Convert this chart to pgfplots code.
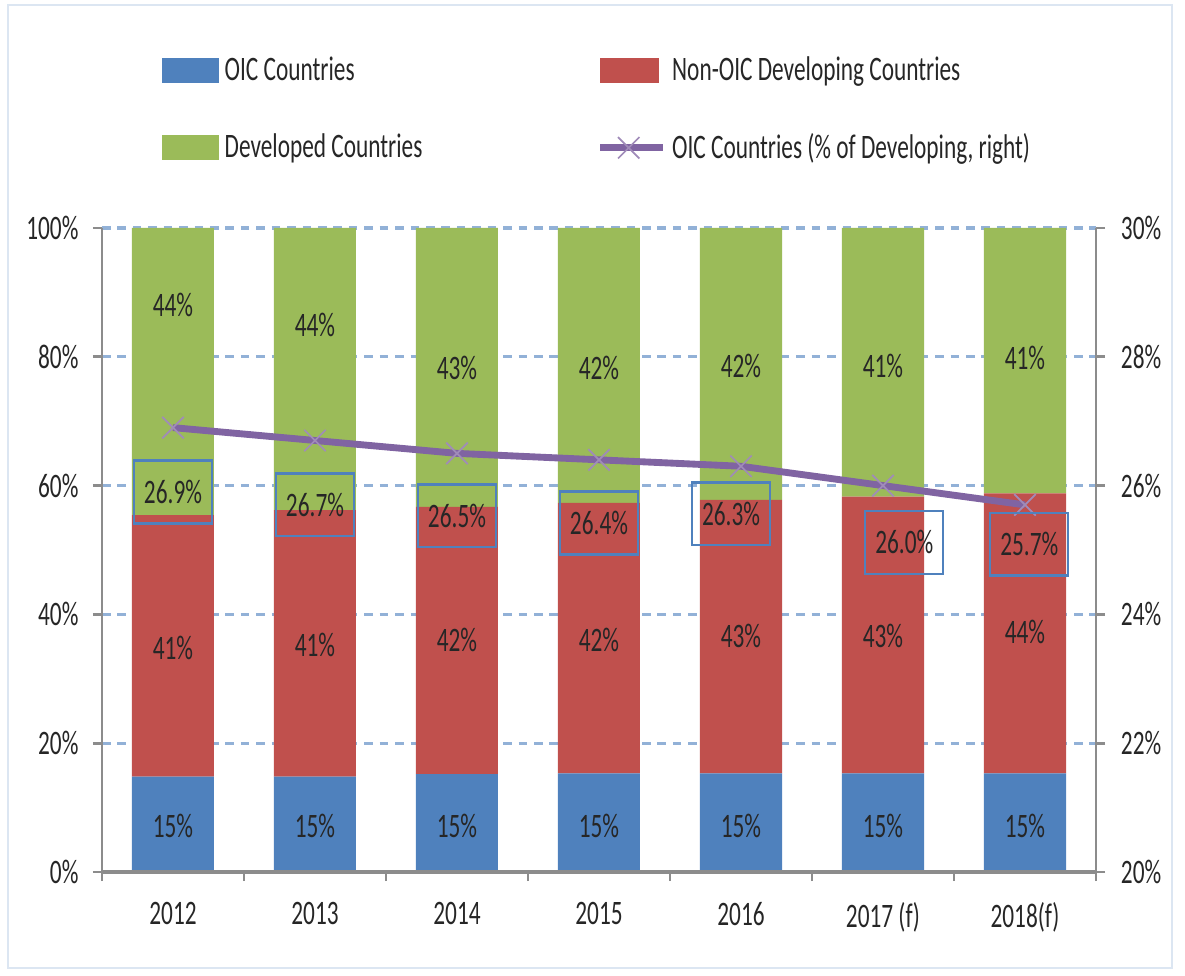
\documentclass[border=0pt]{standalone}
\usepackage{pgfplots}
\pgfplotsset{compat=1.18}
\usepackage{pgfplotstable}
\usepackage{fontspec}
\setmainfont{Carlito}[FakeStretch=0.68]
\definecolor{cblue}{HTML}{4F81BD}
\definecolor{cred}{HTML}{C0504D}
\definecolor{cgreen}{HTML}{9BBB59}
\definecolor{cpurple}{HTML}{8064A2}
\definecolor{cgrid}{HTML}{7FA3D0}
\definecolor{caxis}{HTML}{8C8C8C}
\definecolor{cframe}{HTML}{DCE6F2}
\definecolor{ctext}{HTML}{262626}

\pgfplotstableread{
x oic non dev
0 14.8 40.6 44.6
1 14.8 41.4 43.8
2 15.2 41.5 43.3
3 15.3 42.0 42.7
4 15.3 42.5 42.2
5 15.3 43.0 41.7
6 15.3 43.5 41.2
}\bars

\pgfplotstableread{
x y lab
0 88.0 44
1 84.9 44
2 78.3 43
3 78.3 42
4 78.6 42
5 78.6 41
6 79.8 41
0 34.8 41
1 35.2 41
2 36.0 42
3 36.0 42
4 36.6 43
5 36.6 43
6 37.3 44
0 7.1 15
1 7.1 15
2 7.1 15
3 7.1 15
4 7.1 15
5 7.1 15
6 7.1 15
}\barlabs

\pgfplotstableread{
x y
0 26.9
1 26.7
2 26.5
3 26.4
4 26.3
5 26.0
6 25.7
}\share

\pgfplotstableread{
x y lab
0 25.90 26.9
1 25.70 26.7
2 25.53 26.5
3 25.42 26.4
3.93 25.56 26.3
5.15 25.12 26.0
6.03 25.09 25.7
}\sharelabs

\pgfplotsset{
  common/.style={
    at={(0,0)}, anchor=south west,
    scale only axis, width=347.9pt, height=225.4pt,
    xmin=-0.5, xmax=6.5,
    /pgf/number format/assume math mode=true,
    tick label style={text=ctext, font=\fontsize{12}{14}\selectfont},
    major tick length=3.2pt,
    tick align=outside,
  },
  linelegend/.style={
    legend image code/.code={\draw[mark repeat=2,mark phase=2,##1] plot coordinates {(0pt,0pt) (10pt,0pt) (22pt,0pt)};}
  },
}

\begin{document}
\begin{tikzpicture}[font=\fontsize{12}{14}\selectfont]
% page extent and frame
\path (-35.7pt,-36.4pt) rectangle (379.05pt,305.2pt);
\draw[cframe, line width=0.8pt] (-32.9pt,-33.6pt) rectangle (374.5pt,303.45pt);

% main stacked bars
\begin{axis}[common,
  ybar stacked, bar width=28.7pt,
  ymin=0, ymax=100,
  axis x line*=bottom, axis y line*=left,
  axis line style={caxis, line width=1pt},
  xtick={-0.5,0.5,...,6.5},
  xticklabels={2012,2013,2014,2015,2016,2017 (f),2018(f),{}},
  xticklabel style={xshift=24.85pt, yshift=-4pt},
  x tick style={caxis, line width=1pt},
  ytick={0,20,...,100},
  yticklabel={\pgfmathprintnumber{\tick}\%},
  y tick style={caxis, line width=1pt},
  yticklabel style={xshift=-1.5pt},
  ymajorgrids,
  grid style={cgrid!85, line width=1.1pt, dash pattern=on 3pt off 2.4pt},
]
\addplot[fill=cblue, draw=none] table[x=x, y=oic] \bars;
\addplot[fill=cred, draw=none] table[x=x, y=non] \bars;
\addplot[fill=cgreen, draw=none] table[x=x, y=dev] \bars;
\end{axis}

% bar labels and redrawn x axis line
\begin{axis}[common,
  ymin=0, ymax=100,
  axis x line*=bottom, axis y line=none,
  x axis line style={caxis, line width=1.6pt},
  xtick=\empty, ytick=\empty,
]
\addplot[draw=none, mark=none, nodes near coords={\pgfplotspointmeta\%},
  point meta=explicit symbolic,
  every node near coord/.append style={anchor=center, text=ctext, font=\fontsize{12}{14}\selectfont}]
  table[x=x, y=y, meta=lab] \barlabs;
\end{axis}

% right axis: share line
\begin{axis}[common,
  ymin=20, ymax=30,
  axis x line=none, axis y line*=right,
  axis line style={caxis, line width=1pt},
  ytick={20,22,...,30},
  yticklabel={\pgfmathprintnumber{\tick}\%},
  y tick style={caxis, line width=1pt},
  yticklabel style={xshift=2pt},
  legend columns=2,
  legend cell align=left,
  legend style={at={(0.051,1.285)}, anchor=north west, draw=none, fill=none,
    font=\fontsize{12}{14}\selectfont, text=ctext,
    /tikz/every even column/.append style={column sep=59pt},
    row sep=13pt},
]
\addlegendimage{legend image code/.code={\fill[cblue] (0pt,-4.2pt) rectangle (19.6pt,4.2pt);}}
\addlegendentry{OIC Countries}
\addlegendimage{legend image code/.code={\fill[cred] (0pt,-4.2pt) rectangle (20.5pt,4.2pt);}}
\addlegendentry{Non-OIC Developing Countries}
\addlegendimage{legend image code/.code={\fill[cgreen] (0pt,-4.2pt) rectangle (19.6pt,4.2pt);}}
\addlegendentry{Developed Countries}
\addplot[cpurple, line width=2.4pt, mark=x, mark size=5.3pt,
  mark options={line width=0.6pt, draw=cpurple!75}, linelegend]
  table[x=x, y=y] \share;
\addlegendentry{OIC Countries (\% of Developing, right)}
\addplot[draw=none, mark=none, forget plot, nodes near coords={\pgfplotspointmeta\%},
  point meta=explicit symbolic,
  every node near coord/.append style={anchor=center, text=ctext, draw=cblue, line width=0.8pt,
    minimum width=27.3pt, minimum height=22pt, inner sep=1pt, font=\fontsize{12}{14}\selectfont}]
  table[x=x, y=y, meta=lab] \sharelabs;
\end{axis}
\end{tikzpicture}
\end{document}
